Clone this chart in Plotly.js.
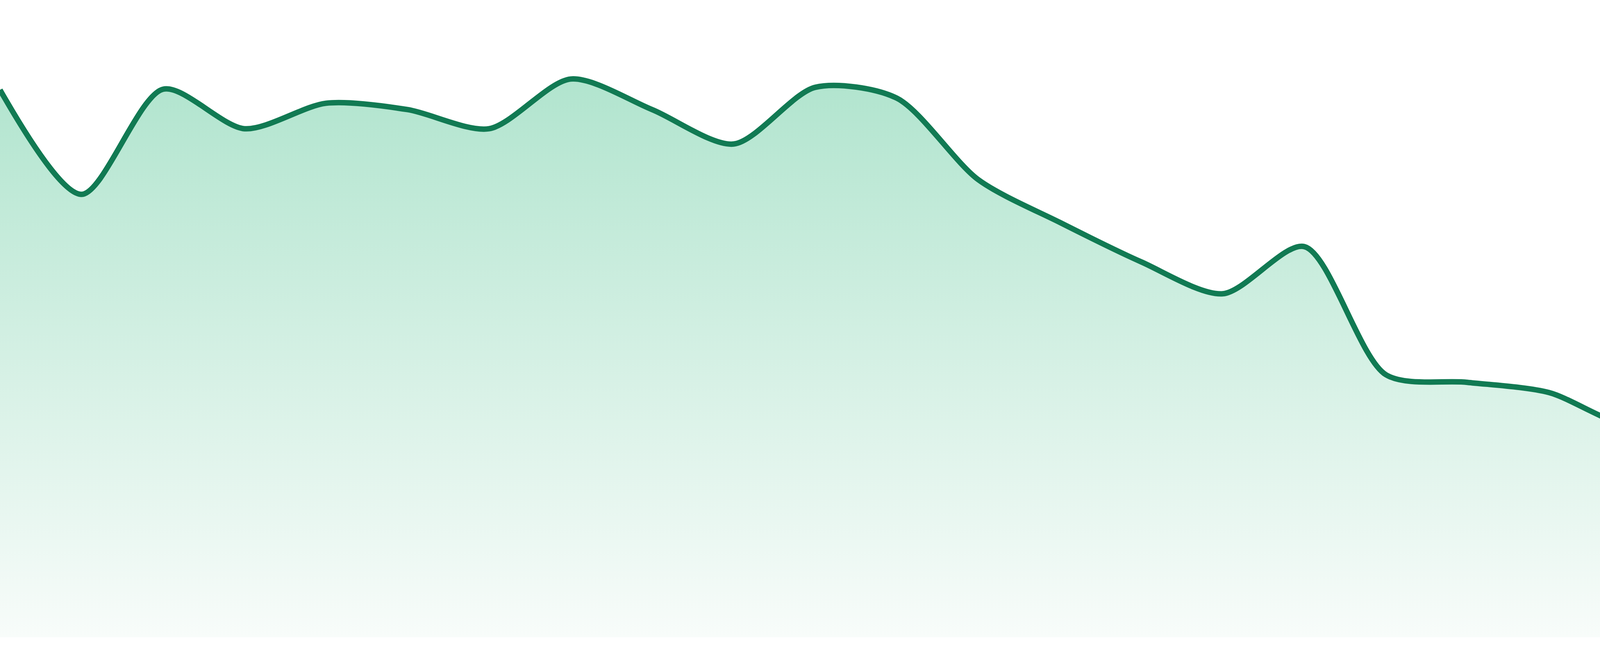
<!DOCTYPE html>
<html>
<head>
<meta charset="utf-8">
<title>Trend Area</title>
<script src="https://cdn.plot.ly/plotly-3.0.1.min.js"></script>
<style>
    html, body { margin: 0; padding: 0; background: #ffffff; }
    #chart { width: 4800px; height: 1680px; }
</style>
</head>
<body>
<div id="chart"></div>
<script>
// ─── Data ───────────────────────────────────────────────────────────
// 24 evenly spaced samples, no axis labels shown in the original
const periods = [0, 1, 2, 3, 4, 5, 6, 7, 8, 9, 10, 11,
                 12, 13, 14, 15, 16, 17, 18, 19, 20, 21, 22, 23];

const values = [85.9, 69.5, 86.0, 79.8, 83.8, 82.8, 79.8, 87.6,
                82.8, 77.4, 86.3, 84.6, 71.8, 65.1, 58.9, 53.9,
                61.3, 41.2, 40.0, 38.4, 33.2, 36.1, 35.5, 38.9];

// ─── Colours ────────────────────────────────────────────────────────
const COLORS = {
    line: '#117a53',
    fillTop: 'rgb(167,225,200)',
    fillBottom: 'rgb(248,252,250)',
    bg: '#ffffff'
};

// ─── Trace: smoothed line with vertical gradient fill ───────────────
const trace = {
    x: periods,
    y: values,
    type: 'scatter',
    mode: 'lines',
    fill: 'tozeroy',
    fillgradient: {
        type: 'vertical',
        start: 0,
        stop: 100,
        colorscale: [[0, COLORS.fillBottom], [1, COLORS.fillTop]]
    },
    line: {
        color: COLORS.line,
        width: 14,
        shape: 'spline',
        smoothing: 0.8
    },
    hoverinfo: 'skip',
    showlegend: false
};

// ─── Layout: bare sparkline, no axes ────────────────────────────────
const hiddenAxis = {
    visible: false,
    showgrid: false,
    zeroline: false,
    fixedrange: true
};

const layout = {
    width: 4800,
    height: 1680,
    margin: { t: 0, r: 0, b: 48, l: 0 },
    paper_bgcolor: COLORS.bg,
    plot_bgcolor: COLORS.bg,
    xaxis: Object.assign({}, hiddenAxis, { range: [0, periods.length - 1] }),
    yaxis: Object.assign({}, hiddenAxis, { range: [0, 100] }),
    showlegend: false
};

Plotly.newPlot('chart', [trace], layout, { displayModeBar: false, staticPlot: true });
</script>
</body>
</html>
